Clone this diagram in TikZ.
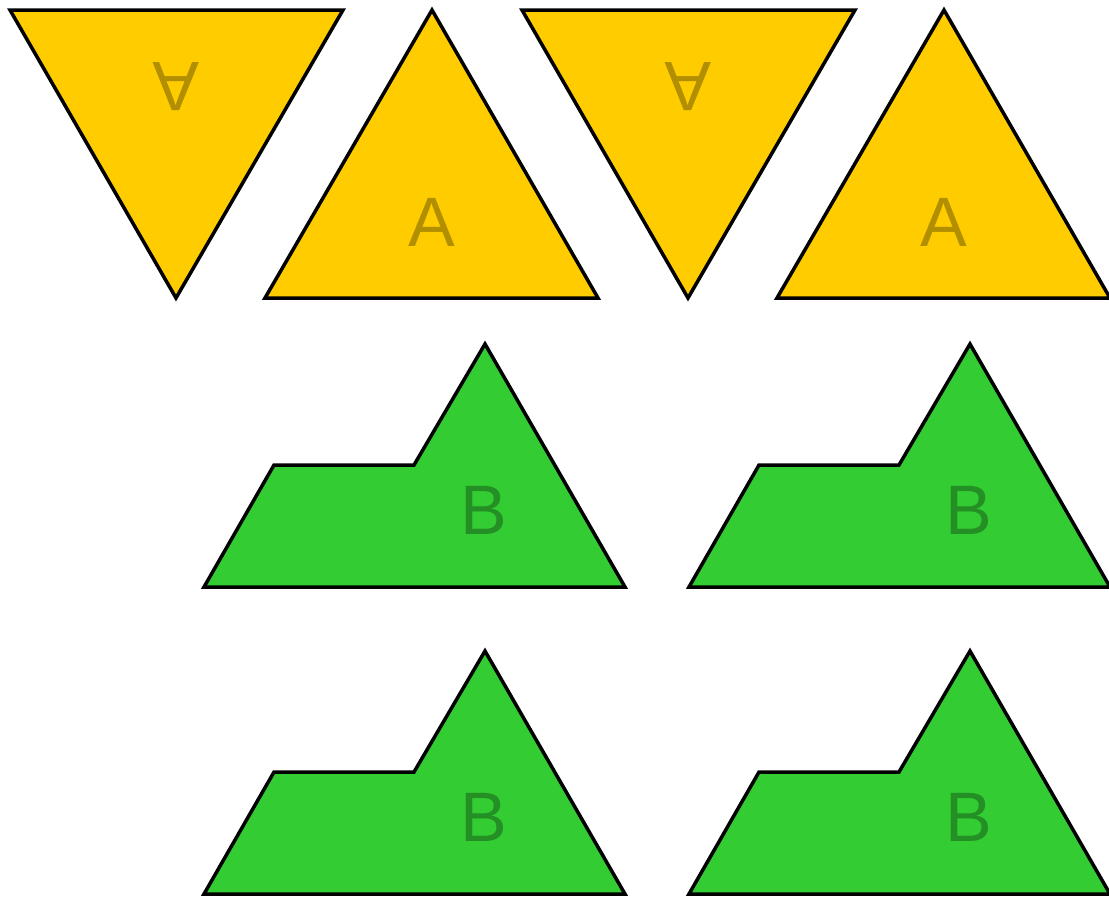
\documentclass[tikz,border=0pt]{standalone}
\usepackage{fontspec}
\setmainfont{Liberation Sans}
\usetikzlibrary{positioning}
\definecolor{tileyellow}{RGB}{255,204,0}
\definecolor{tilegreen}{RGB}{51,204,51}

\begin{document}
\begin{tikzpicture}[x=1pt, y=-1pt,
    tile/.style={draw=black, line width=3.5pt},
    letter/.style={inner sep=0pt, font=\fontsize{70}{84}\selectfont}]
  \useasboundingbox (0,0) rectangle (1109,897);

  % yellow triangles, two pairs
  \foreach \i/\xs in {0/0, 1/512} {
    \draw[tile, fill=tileyellow] (10+\xs,10) -- (343+\xs,10) -- (176+\xs,298) -- cycle;
    \node[letter, text=tileyellow!70!black, rotate=180] (adown\i) at (176+\xs,87) {A};

    \draw[tile, fill=tileyellow] (265+\xs,298) -- (432+\xs,10) -- (598+\xs,298) -- cycle;
    \node[letter, text=tileyellow!70!black] (aup\i) at (432+\xs,222) {A};
  }

  % green pieces, two rows of two
  \foreach \j/\ys in {0/0, 1/307} {
    \foreach \i/\xs in {0/0, 1/485} {
      \draw[tile, fill=tilegreen] (204+\xs,587+\ys) -- (274+\xs,465+\ys)
        -- (414+\xs,465+\ys) -- (485+\xs,344+\ys) -- (625+\xs,587+\ys) -- cycle;
      \node[letter, text=tilegreen!70!black] (b\j\i) at (484+\xs,510+\ys) {B};
    }
  }
\end{tikzpicture}
\end{document}
